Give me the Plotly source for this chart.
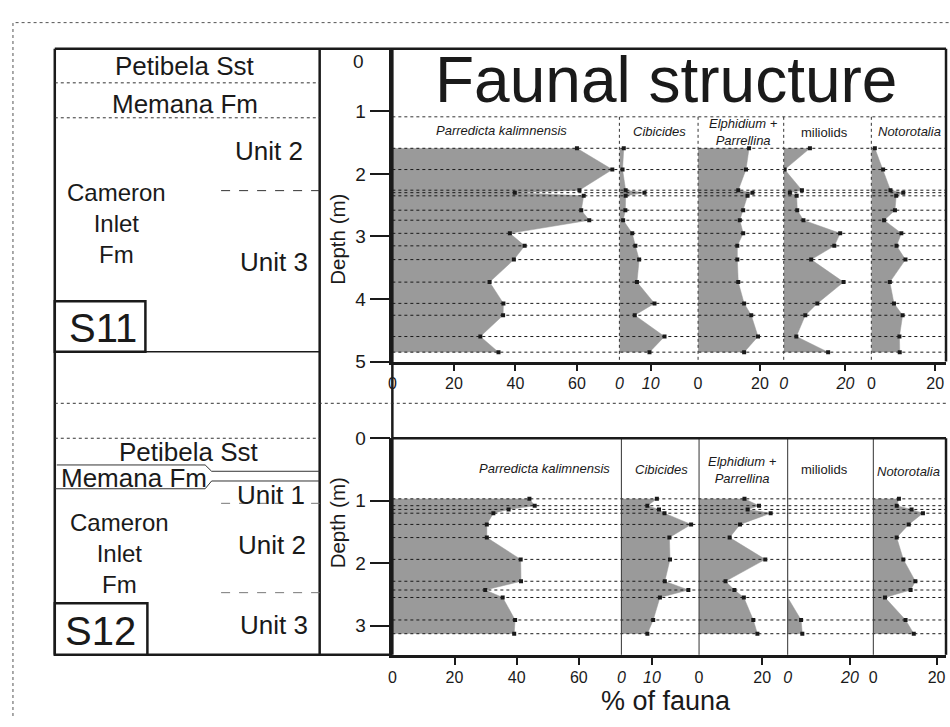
import plotly.graph_objects as go

W, H = 950, 727
def fx(p): return p / W
def fy(p): return 1 - p / H

# ---------------- data ----------------
taxa = ["Parredicta kalimnensis", "Cibicides", "Elphidium +<br>Parrellina", "miliolids", "Notorotalia"]
taxa_italic = [True, True, True, False, True]
tick_values = [[0, 20, 40, 60], [0, 10], [0, 20], [0, 20], [0, 20]]
tick_italic = [False, True, False, True, False]

s11_depth = [1.59, 1.93, 2.26, 2.30, 2.35, 2.58, 2.74, 2.95, 3.15, 3.37, 3.73, 4.07, 4.26, 4.60, 4.85]
s11_parredicta = [60.0, 71.5, 60.8, 39.8, 62.2, 61.4, 64.0, 38.2, 43.0, 39.5, 31.6, 36.1, 36.0, 28.6, 34.5]
s11_cibicides = [1.4, 1.0, 2.0, 8.0, 2.0, 1.9, 1.2, 4.1, 5.1, 6.3, 5.6, 11.2, 4.9, 14.4, 9.6]
s11_elphidium = [16.5, 15.5, 13.0, 17.6, 16.0, 14.6, 13.5, 14.6, 12.7, 12.7, 13.0, 14.9, 17.2, 19.4, 14.9]
s11_miliolids = [8.5, 0.3, 5.9, 2.0, 4.2, 4.4, 6.4, 18.3, 16.4, 8.9, 19.4, 10.9, 7.0, 4.1, 14.4]
s11_notorotalia = [1.1, 3.7, 6.0, 10.0, 7.8, 7.4, 4.0, 9.4, 7.9, 10.7, 5.8, 7.1, 9.8, 8.8, 8.9]

s12_depth = [0.97, 1.08, 1.14, 1.20, 1.38, 1.59, 1.94, 2.29, 2.43, 2.55, 2.91, 3.13]
s12_parredicta = [44.1, 45.8, 37.4, 32.5, 30.4, 30.4, 41.3, 41.4, 29.9, 35.5, 39.5, 39.2]
s12_cibicides = [11.6, 8.5, 12.3, 14.1, 22.8, 15.7, 15.9, 14.2, 21.9, 12.6, 10.4, 8.5]
s12_elphidium = [14.4, 19.0, 15.4, 22.7, 13.0, 9.7, 21.0, 8.4, 11.2, 14.2, 17.2, 18.5]
s12_miliolids = [0, 0, 0, 0, 0, 0, 0, 0, 0, 0, 4.3, 4.7]
s12_notorotalia = [8.1, 7.4, 12.1, 15.7, 11.2, 7.4, 9.5, 13.3, 11.8, 3.7, 10.2, 12.8]

s11_series = [s11_parredicta, s11_cibicides, s11_elphidium, s11_miliolids, s11_notorotalia]
s12_series = [s12_parredicta, s12_cibicides, s12_elphidium, s12_miliolids, s12_notorotalia]

depth_ticks_s11 = [1, 2, 3, 4, 5]
depth_ticks_s12 = [0, 1, 2, 3]

# ---------------- layout geometry ----------------
FONT = "Liberation Sans, Arial, Helvetica, sans-serif"
INK = "#1a1a1a"
GREY = "#9a9a9a"

top_cols = [(390, 618), (618, 697), (697, 783), (783, 871), (871, 946)]
top_ranges = [73.8, 25.1, 27.7, 28.4, 23.4]
bot_cols = [(390, 620), (620, 698), (698, 787), (787, 873), (873, 946)]
bot_ranges = [73.7, 25.4, 28.1, 27.5, 23.0]

TOP_Y = (40, 362)
BOT_Y = (441, 664)

fig = go.Figure()
layout = dict(
    width=W, height=H, margin=dict(l=0, r=0, t=0, b=0),
    paper_bgcolor="white", plot_bgcolor="rgba(0,0,0,0)",
    showlegend=False, font=dict(family=FONT, color=INK),
)

def xaxis_cfg(dom, rng, ticks, italic, anchor):
    vals = ticks
    return dict(
        domain=[fx(dom[0]), fx(dom[1])], range=[0, rng], anchor=anchor,
        showline=True, linecolor=INK, linewidth=2.5, mirror=False,
        showgrid=False, zeroline=False, fixedrange=True,
        tickmode="array", tickvals=vals, ticktext=[str(v) for v in vals],
        ticks="", ticklabelstandoff=6,
        tickfont=dict(size=16, family=FONT, color=INK, style="italic" if italic else "normal"),
        minor=dict(tickmode="array", tickvals=[v for v in vals if v != 0],
                   ticks="outside", ticklen=7, tickwidth=1.5, tickcolor=INK),
    )

for i in range(5):
    k = i + 1
    name = "xaxis" if k == 1 else f"xaxis{k}"
    layout[name] = xaxis_cfg(top_cols[i], top_ranges[i], tick_values[i], tick_italic[i], "y")
    k2 = i + 6
    layout[f"xaxis{k2}"] = xaxis_cfg(bot_cols[i], bot_ranges[i], tick_values[i], tick_italic[i], "y2")

ycommon = dict(showline=True, linecolor=INK, linewidth=2.5, showgrid=False, zeroline=False,
               tickmode="array", ticks="outside", ticklen=20, tickwidth=2, tickcolor=INK,
               tickfont=dict(size=19, family=FONT, color=INK), fixedrange=True)
layout["yaxis"] = dict(domain=[fy(TOP_Y[1]), fy(TOP_Y[0])], range=[5, 0], anchor="x",
                       tickvals=depth_ticks_s11, **ycommon)
layout["yaxis2"] = dict(domain=[fy(BOT_Y[1]), fy(BOT_Y[0])], range=[3.468, 0], anchor="x6",
                        tickvals=depth_ticks_s12, **ycommon)

# ---------------- traces ----------------
def add_panel(series, depth, first_axis, yref):
    for i, vals in enumerate(series):
        k = first_axis + i
        xa = "x" if k == 1 else f"x{k}"
        fig.add_trace(go.Scatter(
            x=vals, y=depth, xaxis=xa, yaxis=yref, mode="lines",
            fill="tozerox", fillcolor=GREY, line=dict(color=GREY, width=0.5),
            hoverinfo="skip"))
        mx = [v for v in vals if v > 0]
        my = [d for v, d in zip(vals, depth) if v > 0]
        fig.add_trace(go.Scatter(
            x=mx, y=my, xaxis=xa, yaxis=yref, mode="markers",
            marker=dict(symbol="square", size=4, color=INK), hoverinfo="skip"))

add_panel(s11_series, s11_depth, 1, "y")
add_panel(s12_series, s12_depth, 6, "y2")

shapes = []
def line(x0, y0, x1, y1, w=1.0, dash="solid", color=INK):
    shapes.append(dict(type="line", xref="paper", yref="paper",
                       x0=fx(x0), y0=fy(y0), x1=fx(x1), y1=fy(y1),
                       line=dict(color=color, width=w, dash=dash), layer="above"))

# sample-depth dotted lines
for d in s11_depth:
    shapes.append(dict(type="line", xref="paper", yref="y", x0=fx(390), x1=fx(946), y0=d, y1=d,
                       line=dict(color=INK, width=1, dash="dot"), layer="above"))
for d in s12_depth:
    shapes.append(dict(type="line", xref="paper", yref="y2", x0=fx(390), x1=fx(946), y0=d, y1=d,
                       line=dict(color=INK, width=1, dash="dot"), layer="above"))

# sub-panel dividers
for a, b in top_cols[1:]:
    line(a, 110, a, 362, 1, "dot", "#333")
for a, b in bot_cols[1:]:
    line(a, 441, a, 664, 1, "solid", "#333")

# title separator
line(390, 110, 946, 110, 1, "dot", "#333")

# frames
line(51, 40, 946, 40, 2.5)
line(946, 40, 946, 362, 2.5)
line(946, 441, 946, 664, 2.5)
line(390, 441, 946, 441, 2.5)
line(51, 664, 390, 664, 2.5)
line(51, 40, 51, 664, 2.5)
line(317, 40, 317, 664, 2.5)
line(390, 40, 390, 664, 2.5)
line(51, 352, 317, 352, 1.5)
line(51, 441, 317, 441, 1, "dot", "#333")
line(51, 405, 946, 405, 1, "dot", "#333")
line(51, 75, 317, 75, 1, "dot", "#333")
line(51, 111, 317, 111, 1, "dot", "#333")
# unit boundaries
line(218, 186, 317, 186, 1, "dash", "#333")
line(218, 508, 317, 508, 1, "dash", "#777")
line(218, 600, 317, 600, 1, "dash", "#777")
# boxes S11 / S12
shapes.append(dict(type="rect", xref="paper", yref="paper", x0=fx(51), x1=fx(142), y0=fy(352), y1=fy(300),
                   line=dict(color=INK, width=2.5), fillcolor="white", layer="above"))
shapes.append(dict(type="rect", xref="paper", yref="paper", x0=fx(51), x1=fx(144), y0=fy(664), y1=fy(611),
                   line=dict(color=INK, width=2.5), fillcolor="white", layer="above"))
# Petibela / Memana contacts in S12
def path(pts, w=1.0, color="#333", dash="solid"):
    d = "M " + " L ".join(f"{fx(x)},{fy(y)}" for x, y in pts)
    shapes.append(dict(type="path", xref="paper", yref="paper", path=d,
                       line=dict(color=color, width=w, dash=dash), layer="above"))
path([(53, 468.5), (202, 468.5), (208.5, 475), (317, 475)])
path([(51, 493), (202, 493), (208.5, 485), (317, 485)])
# outer dashed frame
path([(9, 727), (9, 13), (950, 13)], 1, "#555", "dot")

layout["shapes"] = shapes

# ---------------- annotations ----------------
ann = []
def text(x, y, s, size, italic=False, xanchor="center", angle=0, color=INK):
    ann.append(dict(xref="paper", yref="paper", x=fx(x), y=fy(y), text=s, showarrow=False,
                    xanchor=xanchor, yanchor="middle", textangle=angle,
                    font=dict(size=size, family=FONT, color=color,
                              style="italic" if italic else "normal")))

text(665, 72, "Faunal structure", 64)

# headers
top_hdr = [(500, 124), (658, 125), (743, 126), (824, 126), (909, 125)]
bot_hdr = [(543, 472), (660, 473), (742, 474), (824, 473), (908, 475)]
for i, t in enumerate(taxa):
    text(top_hdr[i][0], top_hdr[i][1], t, 13, italic=taxa_italic[i])
    text(bot_hdr[i][0], bot_hdr[i][1], t, 13, italic=taxa_italic[i])

# depth axis labels
text(335, 236, "Depth (m)", 20.5, angle=-90)
text(335, 528, "Depth (m)", 20.5, angle=-90)
ann.append(dict(xref="paper", yref="y", x=fx(356), y=0, yshift=-13, text="0", showarrow=False,
                xanchor="center", yanchor="middle", font=dict(size=19, family=FONT, color=INK)))
text(665, 712, "% of fauna", 27)

# stratigraphic column S11
S = 26
text(182, 58, "Petibela Sst", S)
text(182, 97, "Memana Fm", S)
text(266, 145, "Unit 2", S)
text(113, 220, "Cameron<br>Inlet<br>Fm", 24)
text(271, 260, "Unit 3", S)
text(99, 327, "S11", 40)

# stratigraphic column S12
text(186, 455, "Petibela Sst", S)
text(55, 482, "Memana Fm", S, xanchor="left")
text(268, 499, "Unit 1", S)
text(116, 560, "Cameron<br>Inlet<br>Fm", 24)
text(269, 551, "Unit 2", S)
text(271, 633, "Unit 3", S)
text(97, 639, "S12", 40)

layout["annotations"] = ann
fig.update_layout(**layout)
fig.write_html("out.html")
